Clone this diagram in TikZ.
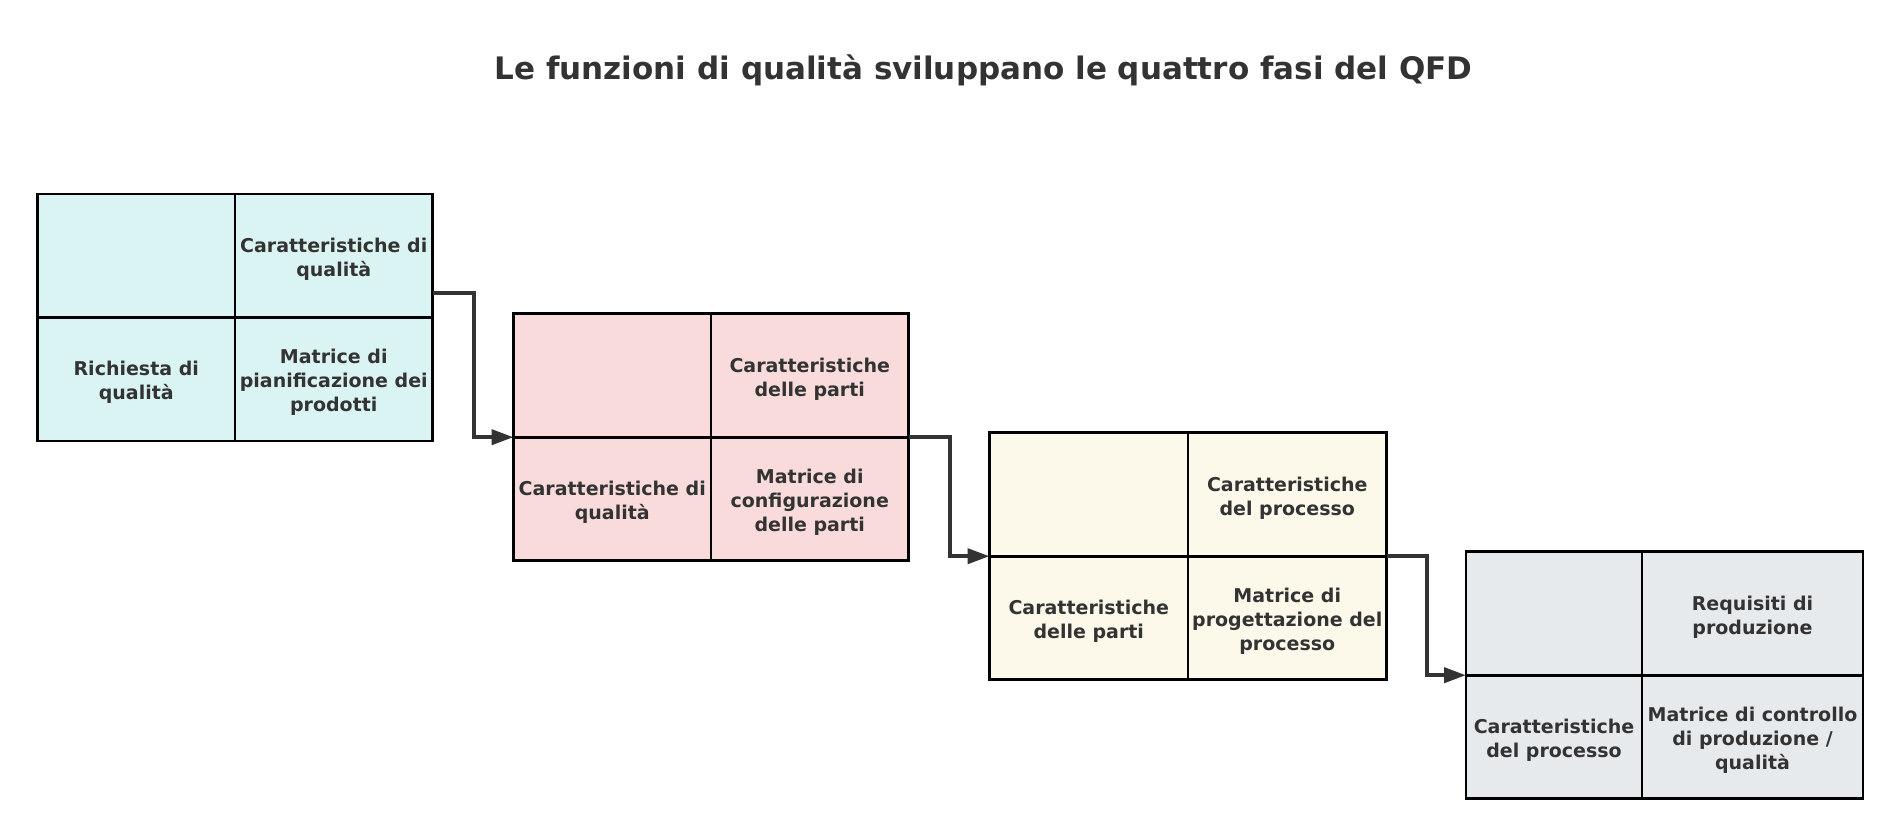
\documentclass[tikz,border=0pt]{standalone}
\usepackage{fontspec}
\setmainfont{DejaVu Sans}
\usetikzlibrary{arrows.meta}
\definecolor{cA}{HTML}{DAF4F3}
\definecolor{cB}{HTML}{F9DBDB}
\definecolor{cC}{HTML}{FCF8EA}
\definecolor{cD}{HTML}{E7EAED}
\definecolor{txt}{HTML}{333333}
\definecolor{arr}{HTML}{333333}
\tikzset{
  cell/.style={draw=black, line width=2.7pt, rectangle, inner sep=0pt, outer sep=0pt,
    minimum height=123.5pt, anchor=north west},
  celltext/.style={align=center, text=txt, inner sep=0pt,
    font=\fontsize{19}{24}\selectfont\bfseries},
  conn/.style={draw=arr, line width=4pt, -{Triangle[length=22pt,width=15pt]}},
  titlestyle/.style={text=txt, font=\fontsize{31}{36}\selectfont\bfseries, anchor=base, inner sep=0pt}
}
\newcommand{\qblock}[9]{%
  \node[cell, fill=#6, minimum width=#4pt] (#1tl) at (#2,#3) {};
  \node[cell, fill=#6, minimum width=#5pt] (#1tr) at (#1tl.north east) {};
  \node[cell, fill=#6, minimum width=#4pt] (#1bl) at (#1tl.south west) {};
  \node[cell, fill=#6, minimum width=#5pt] (#1br) at (#1tl.south east) {};
  \node[celltext] (#1trt) at ([yshift=-3.5pt]#1tr.center) {#7};
  \node[celltext] (#1blt) at ([yshift=-3.5pt]#1bl.center) {#8};
  \node[celltext] (#1brt) at ([yshift=-3.5pt]#1br.center) {#9};
}
\begin{document}
\begin{tikzpicture}[x=1pt,y=-1pt]
\useasboundingbox[fill=white] (0,0) rectangle (1899,837);
\node[titlestyle] (title) at (983.5,79.3) {Le funzioni di qualità sviluppano le quattro fasi del QFD};
\qblock{a}{37.5}{194}{197.5}{197.5}{cA}{Caratteristiche di\\qualità}{Richiesta di\\qualità}{Matrice di\\pianificazione dei\\prodotti}
\qblock{b}{513.5}{313.7}{197.5}{197.5}{cB}{Caratteristiche\\delle parti}{Caratteristiche di\\qualità}{Matrice di\\configurazione\\delle parti}
\qblock{c}{989.5}{432.7}{198.5}{198.5}{cC}{Caratteristiche\\del processo}{Caratteristiche\\delle parti}{Matrice di\\progettazione del\\processo}
\qblock{d}{1466}{551.7}{176}{221}{cD}{Requisiti di\\produzione}{Caratteristiche\\del processo}{Matrice di controllo\\di produzione /\\qualità}
\coordinate (s1) at ([yshift=25pt]atr.south east);
\draw[conn] (s1) -- ++(41,0) |- (bbl.north west);
\draw[conn] (btr.south east) -- ++(41,0) |- (cbl.north west);
\draw[conn] (ctr.south east) -- ++(40,0) |- (dbl.north west);
\end{tikzpicture}
\end{document}
